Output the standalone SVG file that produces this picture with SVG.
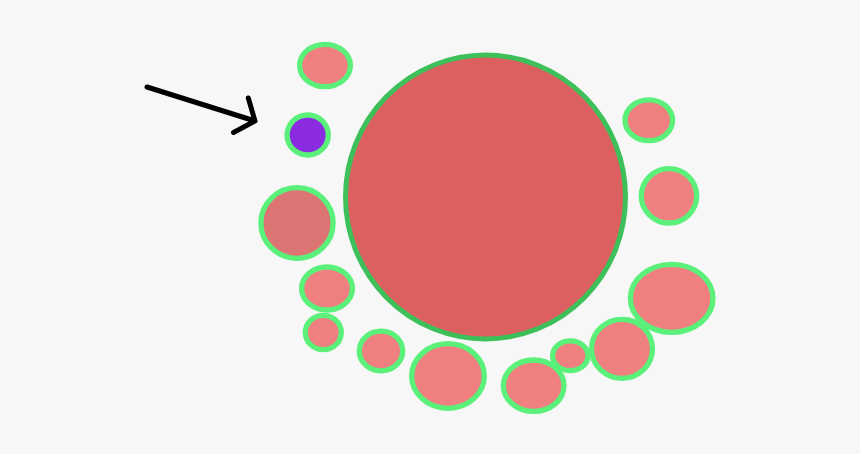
<svg xmlns="http://www.w3.org/2000/svg" width="860" height="454" viewBox="0 0 860 454">
<style>
.s{fill:#f08080;stroke:#5af07a;stroke-width:5.3}
.big{fill:#dc6060;stroke:#3dc05a;stroke-width:5}
.arrow{fill:none;stroke:#000;stroke-width:5;stroke-linecap:round;stroke-linejoin:round}
</style>
<rect width="860" height="454" fill="#f7f7f7"/>
<g id="big"><ellipse class="big" cx="485.5" cy="197" rx="140" ry="142"/></g>
<g id="bubbles">
<ellipse class="s" cx="325" cy="65.5" rx="25.4" ry="21.2"/>
<ellipse class="s" cx="307.7" cy="135" rx="20.6" ry="20" style="fill:#8a2be2"/>
<ellipse class="s" cx="297" cy="223" rx="36.1" ry="35.3" style="fill:#dd7474"/>
<ellipse class="s" cx="327" cy="288.5" rx="25.4" ry="21.5"/>
<ellipse class="s" cx="323.3" cy="332.5" rx="18" ry="17.2"/>
<ellipse class="s" cx="381" cy="351" rx="21.7" ry="19.8"/>
<ellipse class="s" cx="448" cy="376" rx="36.3" ry="32.3"/>
<ellipse class="s" cx="533.7" cy="385.7" rx="30.3" ry="25.7"/>
<ellipse class="s" cx="570.3" cy="355.8" rx="17.7" ry="14.9"/>
<ellipse class="s" cx="622" cy="348.8" rx="30.5" ry="29.5"/>
<ellipse class="s" cx="671.7" cy="298.3" rx="41.3" ry="34"/>
<ellipse class="s" cx="648.8" cy="120.3" rx="23.8" ry="20.4"/>
<ellipse class="s" cx="669" cy="195.8" rx="27.7" ry="27.2"/>
</g>
<g id="arrow"><path class="arrow" d="M147,87 L255,121 M248.3,98 L255,121 L233.5,132.5"/></g>
</svg>
